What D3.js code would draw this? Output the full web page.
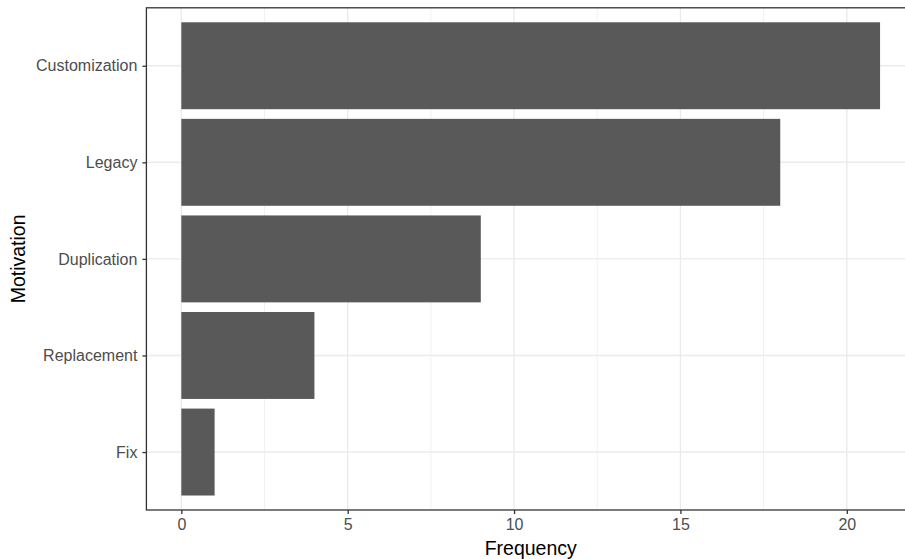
<!DOCTYPE html>
<html><head><meta charset="utf-8">
<script src="https://cdn.jsdelivr.net/npm/d3@7"></script>
<style>html,body{margin:0;padding:0;background:#fff;overflow:hidden}</style>
</head><body>
<svg id="c" width="905" height="559"></svg>
<script>
const categories = ["Customization","Legacy","Duplication","Replacement","Fix"];
const frequencies = [21, 18, 9, 4, 1];
const xTicks = [0, 5, 10, 15, 20];
const xMinor = [2.5, 7.5, 12.5, 17.5, 22.5];

const svg = d3.select("#c");
const font = "'Liberation Sans', Arial, Helvetica, sans-serif";
const panel = {left: 146.4, right: 915, top: 7.8, bottom: 510};

const maxV = d3.max(frequencies);
const x = d3.scaleLinear()
  .domain([-0.05*maxV, maxV*1.05])
  .range([panel.left, panel.right]);
// discrete y with 0.6 expansion
const n = categories.length;
const yc = d3.scaleLinear().domain([0.4, n + 0.6]).range([panel.top, panel.bottom]);
const y = c => yc(categories.indexOf(c) + 1);
const bw = yc(1.45) - yc(0.55);

svg.append("rect").attr("x",0).attr("y",0).attr("width",905).attr("height",559).attr("fill","#fff");

const g = svg.append("g");
// minor grid
g.selectAll(".minor").data(xMinor).join("line")
  .attr("x1", d=>x(d)).attr("x2", d=>x(d))
  .attr("y1", panel.top).attr("y2", panel.bottom)
  .attr("stroke","#EBEBEB").attr("stroke-width",0.7);
// major grid
g.selectAll(".majx").data(xTicks).join("line")
  .attr("x1", d=>x(d)).attr("x2", d=>x(d))
  .attr("y1", panel.top).attr("y2", panel.bottom)
  .attr("stroke","#EBEBEB").attr("stroke-width",1.4);
g.selectAll(".majy").data(categories).join("line")
  .attr("x1", panel.left).attr("x2", panel.right)
  .attr("y1", d=>y(d)).attr("y2", d=>y(d))
  .attr("stroke","#EBEBEB").attr("stroke-width",1.4);

// bars
g.selectAll(".bar").data(categories).join("rect")
  .attr("x", x(0))
  .attr("y", d => y(d) - bw/2)
  .attr("width", (d,i) => x(frequencies[i]) - x(0))
  .attr("height", bw)
  .attr("fill", "#595959");

// panel border
svg.append("rect").attr("x", panel.left).attr("y", panel.top)
  .attr("width", panel.right - panel.left).attr("height", panel.bottom - panel.top)
  .attr("fill","none").attr("stroke","#333333").attr("stroke-width",1.3);

// x axis
const xa = svg.append("g").attr("transform",`translate(0,${panel.bottom})`)
  .call(d3.axisBottom(x).tickValues(xTicks).tickSize(4).tickPadding(5).tickFormat(d3.format("d")));
xa.select(".domain").remove();
xa.selectAll("line").attr("stroke","#333333").attr("stroke-width",1.3);
xa.selectAll("text").attr("fill","#4D4D4D").style("font-family",font).style("font-size","16px");

// y axis
const yband = d3.scalePoint().domain(categories).range([y(categories[0]), y(categories[n-1])]);
const ya = svg.append("g").attr("transform",`translate(${panel.left},0)`)
  .call(d3.axisLeft(yband).tickSize(4).tickPadding(5));
ya.select(".domain").remove();
ya.selectAll("line").attr("stroke","#333333").attr("stroke-width",1.3);
ya.selectAll("text").attr("fill","#4D4D4D").style("font-family",font).style("font-size","16px");

// titles
svg.append("text").attr("x", (panel.left+panel.right)/2).attr("y", 554.5)
  .attr("text-anchor","middle").style("font-family",font).style("font-size","19.5px")
  .attr("fill","#000").text("Frequency");
svg.append("text").attr("transform",`translate(24.5,${(panel.top+panel.bottom)/2}) rotate(-90)`)
  .attr("text-anchor","middle").style("font-family",font).style("font-size","19.5px")
  .attr("fill","#000").text("Motivation");
</script>
</body></html>
